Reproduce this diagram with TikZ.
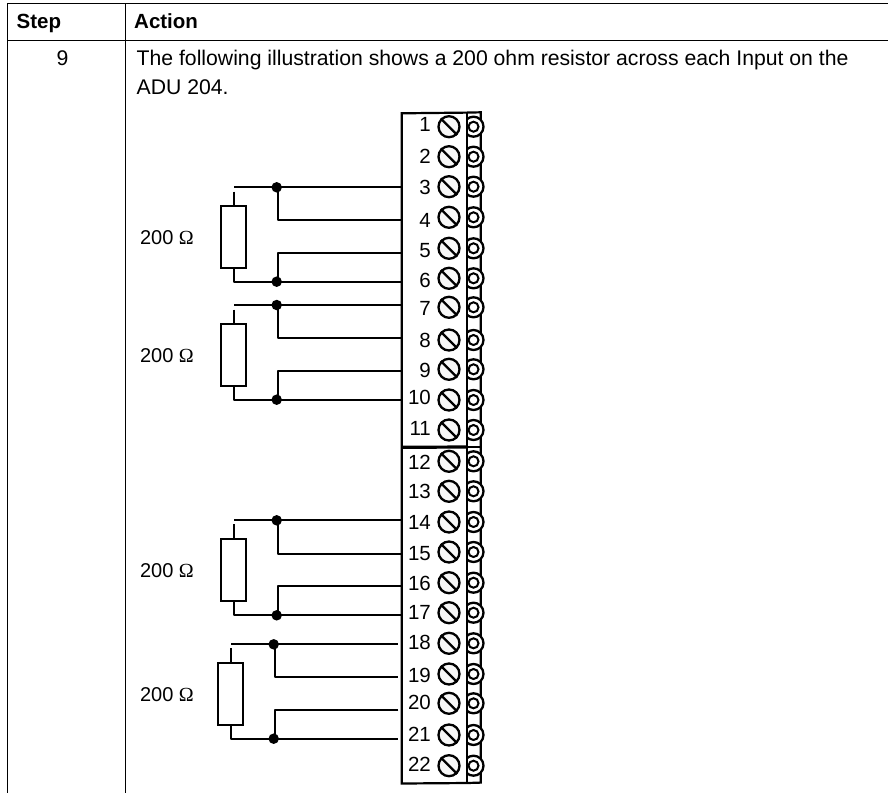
\documentclass[tikz,border=0pt]{standalone}
\usepackage{fontspec}
\setmainfont{Liberation Sans}
\newfontfamily\omegafont{Liberation Serif}
\begin{document}
\begin{tikzpicture}[x=1pt,y=-1pt,
  rule/.style={line width=1.2pt,black},
  wire/.style={line width=2.1pt,black,line join=round},
  body/.style={line width=2.2pt,black},
  res/.style={draw,line width=2pt,minimum width=25pt,minimum height=61.5pt,inner sep=0pt,fill=white},
  joint/.style={circle,fill=black,inner sep=0pt,minimum size=10.5pt},
  screw/.style={circle,draw,line width=2.3pt,fill=black!3,inner sep=0pt,minimum size=21pt},
  num/.style={anchor=east,inner sep=0pt,font=\fontsize{20.5}{20.5}\selectfont},
  txt/.style={anchor=base west,inner sep=0pt,font=\fontsize{21.2}{21.2}\selectfont},
  val/.style={anchor=base east,inner sep=0pt,font=\fontsize{20}{20}\selectfont}]
\useasboundingbox (0,0) rectangle (888,793);
% table
\coordinate (tl) at (7.3,3.5); \coordinate (tr) at (888,3.5);
\coordinate (hl) at (7.3,40.5); \coordinate (hr) at (888,40.5);
\coordinate (bl) at (7.3,793); \coordinate (cb) at (125.5,793); \coordinate (ct) at (125.5,3.5);
\draw[rule] (tl) -- (tr) (hl) -- (hr) (tl) -- (bl) (ct) -- (cb);
\node[txt,font=\fontsize{20.5}{20.5}\selectfont\bfseries] (hstep) at (16.5,28) {Step};
\node[txt,font=\fontsize{20.5}{20.5}\selectfont\bfseries] (haction) at (134,28) {Action};
\node[txt] (n9) at (56.5,65.5) {9};
\node[txt] (l1) at (136.5,65.5) {The following illustration shows a 200 ohm resistor across each Input on the};
\node[txt] (l2) at (136.5,94.3) {ADU 204.};
% terminal block
\draw[body] (401.7,113.3) -- (467,112.6) -- (480.7,112.3) -- (480.7,782.6) -- (467,783) -- (401.7,783.5) -- cycle;
\foreach \n/\y/\ty in {1/126.7/124,2/156.7/156.7,3/186.7/187.3,4/217.3/220,5/248.3/250.7,6/278.3/280.7,7/307.3/308.7,8/340/340.7,9/369.3/370,10/400/397.3,11/430/428.3,12/461.3/462.7,13/491.3/491,14/522/522.7,15/552/553.3,16/582.7/583.3,17/612.7/612.7,18/643.3/642.7,19/674/675,20/703.3/702.3,21/735/734,22/765.7/764}{
  \node[num] (t\n) at (431,\ty) {\n};
  \node[screw] (s\n) at (449,\y) {};
  \draw[line width=2.3pt] (s\n.135) -- (s\n.-45);
  \begin{scope}
    \clip (467,\y-14) rectangle (490,\y+14);
    \node[circle,draw,line width=2.3pt,fill=white,inner sep=0pt,minimum size=20pt] (ro\n) at (473.5,\y) {};
  \end{scope}
  \node[circle,draw,line width=2pt,inner sep=0pt,minimum size=10pt] (ri\n) at (473.5,\y) {};
}
\draw[line width=2.2pt] (467,112.6) -- (467,783);
\draw[line width=3.2pt] (401.7,447.3) -- (467,447);
\draw[body] (467,447) -- (481,447);
% wiring: x = lead, j = joint, b = branch, e = wire end
\foreach \k/\sh/\e/\a/\b/\c/\d/\rt/\rb/\st in {
  A/0/401.7/187.3/220.3/252.7/281.7/206.3/267.7/191.7,
  B/0/401.7/305/338.3/370.7/399.7/324/385.7/309.5,
  C/0/401.7/520.3/553.7/586/615.3/539.3/601/524.3,
  D/-3/398.3/644.3/677/710/738.7/663.7/724.7/648.3}{
  \pgfmathsetmacro{\lx}{234+\sh}
  \pgfmathsetmacro{\jx}{276.7+\sh}
  \pgfmathsetmacro{\bx}{278.3+\sh}
  \coordinate (lead\k) at (\lx,\a);
  \coordinate (stub\k) at (\lx,\st);
  \coordinate (low\k) at (\lx,\d);
  \coordinate (ea\k) at (\e,\a); \coordinate (eb\k) at (\e,\b);
  \coordinate (ec\k) at (\e,\c); \coordinate (ed\k) at (\e,\d);
  \coordinate (ba\k) at (\bx,\a); \coordinate (bb\k) at (\bx,\b);
  \coordinate (bc\k) at (\bx,\c); \coordinate (bd\k) at (\bx,\d);
  \node[res] (r\k) at (\lx-.3,{(\rt+\rb)/2}) {};
  \node[joint] (jt\k) at (\jx,\a) {};
  \node[joint] (jb\k) at (\jx,\d) {};
  \draw[wire] (lead\k) -- (ea\k);
  \draw[wire] (ba\k) -- (bb\k) -- (eb\k);
  \draw[wire] (ec\k) -- (bc\k) -- (bd\k);
  \draw[wire] (stub\k) -- (r\k.north -| stub\k);
  \draw[wire] (r\k.south -| low\k) -- (low\k) -- (ed\k);
  \node[val] (v\k) at (194,{(\rt+\rb)/2+7.5}) {200 {\omegafont Ω}};
}
\end{tikzpicture}
\end{document}
